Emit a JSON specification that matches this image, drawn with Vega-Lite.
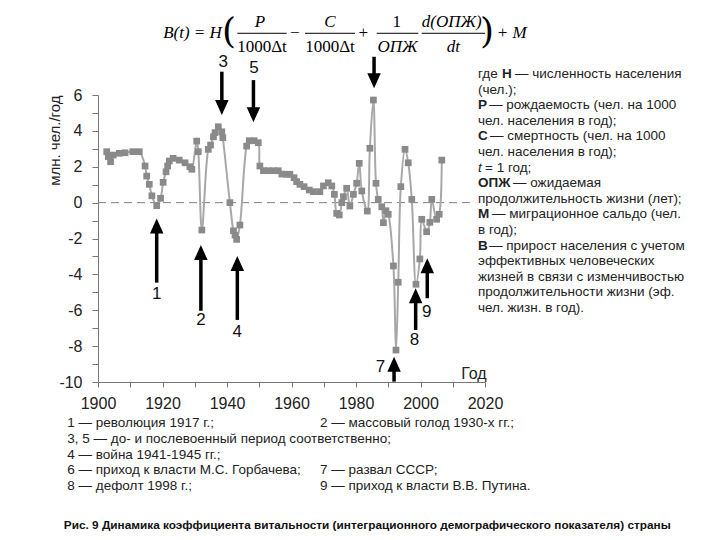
{
  "$schema": "https://vega.github.io/schema/vega-lite/v6.json",
  "autosize": {"type": "none"},
  "padding": {"left": 98, "top": 95, "right": 235, "bottom": 158},
  "width": 387,
  "height": 287,
  "background": "white",
  "config": {"view": {"stroke": null}, "font": "Liberation Sans", "axis": {"grid": false}},
  "datasets": {
    "series": [
      {"x":1902.7,"y":2.84},{"x":1903.2,"y":2.56},{"x":1903.9,"y":2.28},{"x":1904.7,"y":2.65},{"x":1906.6,"y":2.75},{"x":1908.4,"y":2.78},{"x":1910.8,"y":2.84},{"x":1912.8,"y":2.84},{"x":1914.6,"y":2.04},{"x":1915.1,"y":1.48},{"x":1915.9,"y":1.02},{"x":1916.7,"y":0.38},{"x":1918.2,"y":-0.17},{"x":1919.4,"y":0.24},{"x":1920.2,"y":1.13},{"x":1921.1,"y":1.72},{"x":1921.6,"y":2.04},{"x":1922.1,"y":2.32},{"x":1923.3,"y":2.47},{"x":1925.2,"y":2.37},{"x":1927.0,"y":2.22},{"x":1928.5,"y":2.0},{"x":1929.1,"y":1.86},{"x":1930.6,"y":3.43},{"x":1931.1,"y":2.84},{"x":1932.2,"y":-1.53},{"x":1934.2,"y":2.97},{"x":1934.9,"y":3.21},{"x":1935.8,"y":3.67},{"x":1936.3,"y":3.9},{"x":1937.3,"y":4.23},{"x":1938.4,"y":3.95},{"x":1938.7,"y":3.62},{"x":1940.9,"y":0.0},{"x":1942.0,"y":-1.57},{"x":1942.5,"y":-1.81},{"x":1943.0,"y":-2.05},{"x":1944.0,"y":-1.25},{"x":1946.1,"y":3.15},{"x":1946.9,"y":3.45},{"x":1948.4,"y":3.45},{"x":1949.7,"y":3.34},{"x":1950.2,"y":2.04},{"x":1951.3,"y":1.78},{"x":1952.8,"y":1.78},{"x":1954.4,"y":1.78},{"x":1955.9,"y":1.78},{"x":1957.0,"y":1.59},{"x":1958.5,"y":1.58},{"x":1959.5,"y":1.58},{"x":1960.8,"y":1.39},{"x":1961.6,"y":1.17},{"x":1962.6,"y":1.02},{"x":1963.9,"y":0.89},{"x":1965.5,"y":0.7},{"x":1966.8,"y":0.61},{"x":1968.8,"y":0.61},{"x":1969.9,"y":0.93},{"x":1971.4,"y":1.11},{"x":1972.5,"y":0.93},{"x":1973.3,"y":0.46},{"x":1974.0,"y":-0.6},{"x":1974.8,"y":-0.69},{"x":1975.6,"y":0.0},{"x":1976.1,"y":0.33},{"x":1977.1,"y":0.8},{"x":1978.1,"y":-0.19},{"x":1979.2,"y":0.46},{"x":1980.2,"y":1.08},{"x":1981.0,"y":2.19},{"x":1981.8,"y":0.65},{"x":1983.5,"y":-0.47},{"x":1984.3,"y":3.03},{"x":1985.4,"y":5.72},{"x":1986.2,"y":1.08},{"x":1986.9,"y":0.18},{"x":1988.0,"y":-0.23},{"x":1988.5,"y":-1.12},{"x":1989.3,"y":-0.45},{"x":1990.0,"y":-0.65},{"x":1991.6,"y":-3.53},{"x":1992.4,"y":-8.22},{"x":1993.1,"y":-4.44},{"x":1993.9,"y":0.89},{"x":1995.2,"y":2.97},{"x":1996.2,"y":2.22},{"x":1997.3,"y":0.18},{"x":1998.6,"y":-4.55},{"x":1999.8,"y":-3.14},{"x":2000.4,"y":-0.93},{"x":2001.9,"y":-1.62},{"x":2002.9,"y":-1.1},{"x":2003.5,"y":0.18},{"x":2005.0,"y":-0.93},{"x":2005.8,"y":-0.65},{"x":2006.6,"y":2.37}
    ],
    "zero": [{"x": 1900, "x2": 2017, "y": 0}],
    "shafts": [
      {"x":1918.2,"y":-1.38,"y2":-4.46},{"x":1931.9,"y":-2.86,"y2":-6.03},{"x":1943.2,"y":-3.48,"y2":-6.54},{"x":1991.8,"y":-9.09,"y2":-9.98},{"x":1998.5,"y":-5.28,"y2":-7.1},{"x":2002.1,"y":-3.6,"y2":-5.33},
      {"x":1938.4,"y":5.38,"y2":7.3},{"x":1948.2,"y":4.98,"y2":6.83},{"x":1985.6,"y":6.87,"y2":8.13}
    ],
    "headsUp": [
      {"x":1918.2,"y":-0.88},{"x":1931.9,"y":-2.36},{"x":1943.2,"y":-2.98},{"x":1991.8,"y":-8.59},{"x":1998.5,"y":-4.78},{"x":2002.1,"y":-3.1}
    ],
    "headsDown": [
      {"x":1938.4,"y":4.88},{"x":1948.2,"y":4.48},{"x":1985.6,"y":6.37}
    ],
    "arrowLabels": [
      {"x":1918.2,"y":-5.08,"t":"1"},{"x":1931.9,"y":-6.54,"t":"2"},{"x":1938.8,"y":7.85,"t":"3"},{"x":1943.2,"y":-7.21,"t":"4"},{"x":1948.4,"y":7.52,"t":"5"},{"x":1987.6,"y":-9.15,"t":"7"},{"x":1998.1,"y":-7.66,"t":"8"},{"x":2001.9,"y":-6.08,"t":"9"}
    ],
    "rightNormal": [
      {"x":2017.83,"y":7.17,"t":"где"},
      {"x":2029.3,"y":7.17,"t":"— численность населения"},
      {"x":2017.83,"y":6.30,"t":"(чел.);"},
      {"x":2021.24,"y":5.43,"t":"— рождаемость (чел. на 1000"},
      {"x":2017.83,"y":4.56,"t":"чел. населения в год);"},
      {"x":2021.55,"y":3.69,"t":"— смертность (чел. на 1000"},
      {"x":2017.83,"y":2.82,"t":"чел. населения в год);"},
      {"x":2020.0,"y":1.95,"t":"= 1 год;"},
      {"x":2028.68,"y":1.08,"t":"— ожидаемая"},
      {"x":2017.83,"y":0.21,"t":"продолжительность жизни (лет);"},
      {"x":2022.17,"y":-0.66,"t":"— миграционное сальдо (чел."},
      {"x":2017.83,"y":-1.53,"t":"в год);"},
      {"x":2021.24,"y":-2.40,"t":"— прирост населения с учетом"},
      {"x":2017.83,"y":-3.27,"t":"эффективных человеческих"},
      {"x":2017.83,"y":-4.14,"t":"жизней в связи с изменчивостью"},
      {"x":2017.83,"y":-5.01,"t":"продолжительности жизни (эф."},
      {"x":2017.83,"y":-5.88,"t":"чел. жизн. в год)."}
    ],
    "rightBold": [
      {"x":2025.27,"y":7.17,"t":"H"},
      {"x":2017.83,"y":5.43,"t":"P"},
      {"x":2017.83,"y":3.69,"t":"C"},
      {"x":2017.83,"y":1.08,"t":"ОПЖ"},
      {"x":2017.83,"y":-0.66,"t":"M"},
      {"x":2017.83,"y":-2.40,"t":"B"}
    ],
    "rightItalic": [{"x":2017.83,"y":1.95,"t":"t"}],
    "bottomText": [
      {"x":1890.48,"y":-12.31,"t":"1 — революция 1917 г.;"},
      {"x":1968.84,"y":-12.31,"t":"2 — массовый голод 1930-х гг.;"},
      {"x":1890.48,"y":-13.18,"t":"3, 5 — до- и послевоенный период соответственно;"},
      {"x":1890.48,"y":-14.05,"t":"4 — война 1941-1945 гг.;"},
      {"x":1890.48,"y":-14.92,"t":"6 — приход к власти М.С. Горбачева;"},
      {"x":1968.84,"y":-14.92,"t":"7 — развал СССР;"},
      {"x":1890.48,"y":-15.79,"t":"8 — дефолт 1998 г.;"},
      {"x":1968.84,"y":-15.79,"t":"9 — приход к власти В.В. Путина."}
    ],
    "caption": [{"x":1983.5,"y":-17.97,"t":"Рис. 9 Динамика коэффициента витальности  (интеграционного демографического показателя) страны"}],
    "xTitle": [{"x":2020.5,"y":-9.55,"t":"Год"}],
    "formulaItalic": [
      {"x":1929.3,"y":9.44,"t":"B(t) = H"},
      {"x":1950.2,"y":10.08,"t":"P"},
      {"x":1971.94,"y":10.08,"t":"C"},
      {"x":1992.87,"y":8.69,"t":"ОПЖ"},
      {"x":2009.67,"y":10.08,"t":"d(ОПЖ)"},
      {"x":2010.17,"y":8.69,"t":"dt"},
      {"x":2028.25,"y":9.44,"t":"+ M"}
    ],
    "formulaUpright": [
      {"x":1950.85,"y":8.69,"t":"1000Δt"},
      {"x":1971.94,"y":8.69,"t":"1000Δt"},
      {"x":1961.0,"y":9.44,"t":"−"},
      {"x":1982.26,"y":9.44,"t":"+"},
      {"x":1992.62,"y":10.08,"t":"1"}
    ],
    "parens": [
      {"x":1940.6,"y":9.5,"t":"("},
      {"x":2020.62,"y":9.5,"t":")"}
    ],
    "bars": [
      {"x":1943.19,"x2":1958.51,"y":9.44},
      {"x":1964.19,"x2":1979.69,"y":9.44},
      {"x":1986.42,"x2":1999.32,"y":9.44},
      {"x":2000.37,"x2":2020.0,"y":9.44}
    ]
  },
  "encoding": {
    "x": {
      "field": "x", "type": "quantitative",
      "scale": {"domain": [1900, 2020], "nice": false, "zero": false},
      "axis": {
        "values": [1900,1910,1920,1930,1940,1950,1960,1970,1980,1990,2000,2010,2020],
        "labelExpr": "datum.value % 20 == 0 ? '' + datum.value : ''",
        "labelFontSize": 16, "labelFont": "Liberation Sans", "labelColor": "#222",
        "labelFlush": false, "labelOverlap": false,
        "domainColor": "#777", "tickColor": "#777", "tickSize": 5, "labelPadding": 8,
        "title": null
      }
    },
    "y": {
      "field": "y", "type": "quantitative",
      "scale": {"domain": [-10, 6], "nice": false, "zero": false},
      "axis": {
        "values": [-10,-9,-8,-7,-6,-5,-4,-3,-2,-1,0,1,2,3,4,5,6],
        "labelExpr": "datum.value % 2 == 0 ? '' + datum.value : ''",
        "labelFontSize": 16, "labelFont": "Liberation Sans", "labelColor": "#222",
        "labelFlush": false, "labelOverlap": false,
        "domainColor": "#777", "tickColor": "#777", "tickSize": 6, "labelPadding": 10,
        "title": "млн. чел./год", "titleAnchor": "end", "titleFontSize": 15,
        "titleFontWeight": "normal", "titleFont": "Liberation Sans", "titleColor": "#222", "titlePadding": -4
      }
    }
  },
  "layer": [
    {"data": {"name": "zero"}, "mark": {"type": "rule", "color": "#808080", "strokeDash": [8, 5], "strokeWidth": 1}, "encoding": {"x2": {"field": "x2"}}},
    {"data": {"name": "series"}, "mark": {"type": "line", "interpolate": "catmull-rom", "color": "#a8a8a8", "strokeWidth": 2}},
    {"data": {"name": "series"}, "mark": {"type": "point", "shape": "square", "filled": true, "size": 45, "color": "#8a8a8a", "opacity": 1}},
    {"data": {"name": "shafts"}, "mark": {"type": "rule", "color": "#000", "strokeWidth": 3.5}, "encoding": {"y2": {"field": "y2"}}},
    {"data": {"name": "headsUp"}, "mark": {"type": "point", "shape": "M0,0L-0.9,2L0.9,2Z", "filled": true, "size": 225, "color": "#000", "opacity": 1}},
    {"data": {"name": "headsDown"}, "mark": {"type": "point", "shape": "M0,0L-0.9,-2L0.9,-2Z", "filled": true, "size": 225, "color": "#000", "opacity": 1}},
    {"data": {"name": "arrowLabels"}, "mark": {"type": "text", "fontSize": 17, "font": "Liberation Sans", "align": "center", "baseline": "middle", "color": "#111"}, "encoding": {"text": {"field": "t"}}},
    {"data": {"name": "rightNormal"}, "mark": {"type": "text", "fontSize": 13.5, "font": "Liberation Sans", "align": "left", "baseline": "middle", "color": "#222"}, "encoding": {"text": {"field": "t"}}},
    {"data": {"name": "rightBold"}, "mark": {"type": "text", "fontSize": 13.5, "font": "Liberation Sans", "fontWeight": "bold", "align": "left", "baseline": "middle", "color": "#222"}, "encoding": {"text": {"field": "t"}}},
    {"data": {"name": "rightItalic"}, "mark": {"type": "text", "fontSize": 13.5, "font": "Liberation Sans", "fontStyle": "italic", "align": "left", "baseline": "middle", "color": "#222"}, "encoding": {"text": {"field": "t"}}},
    {"data": {"name": "bottomText"}, "mark": {"type": "text", "fontSize": 13.5, "font": "Liberation Sans", "align": "left", "baseline": "middle", "color": "#222"}, "encoding": {"text": {"field": "t"}}},
    {"data": {"name": "caption"}, "mark": {"type": "text", "fontSize": 11.8, "font": "Liberation Sans", "fontWeight": "bold", "align": "center", "baseline": "middle", "color": "#111"}, "encoding": {"text": {"field": "t"}}},
    {"data": {"name": "xTitle"}, "mark": {"type": "text", "fontSize": 16, "font": "Liberation Sans", "align": "right", "baseline": "middle", "color": "#222"}, "encoding": {"text": {"field": "t"}}},
    {"data": {"name": "formulaItalic"}, "mark": {"type": "text", "fontSize": 17, "font": "Liberation Serif", "fontStyle": "italic", "align": "center", "baseline": "middle", "color": "#000"}, "encoding": {"text": {"field": "t"}}},
    {"data": {"name": "formulaUpright"}, "mark": {"type": "text", "fontSize": 17, "font": "Liberation Serif", "align": "center", "baseline": "middle", "color": "#000"}, "encoding": {"text": {"field": "t"}}},
    {"data": {"name": "parens"}, "mark": {"type": "text", "fontSize": 36, "font": "DejaVu Serif", "fontWeight": "normal", "align": "center", "baseline": "middle", "color": "#000"}, "encoding": {"text": {"field": "t"}}},
    {"data": {"name": "bars"}, "mark": {"type": "rule", "color": "#000", "strokeWidth": 1}, "encoding": {"x2": {"field": "x2"}}}
  ]
}
